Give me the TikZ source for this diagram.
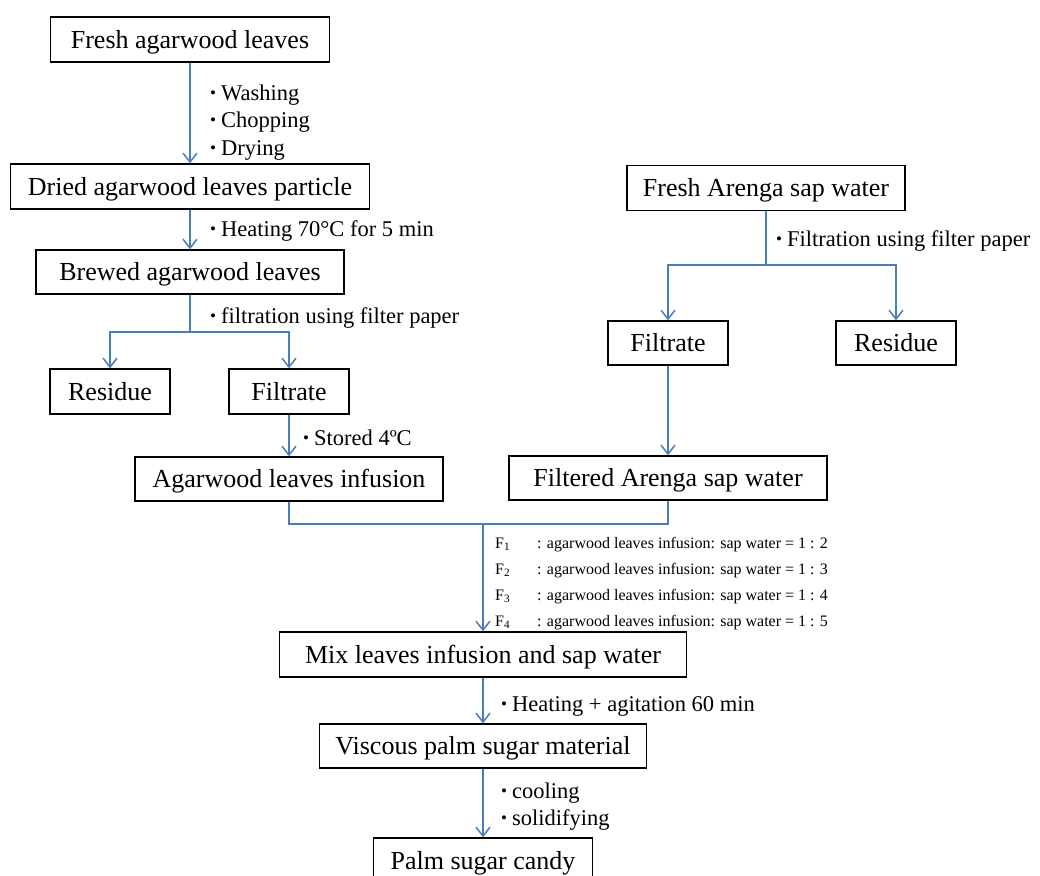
\documentclass[tikz,border=0pt]{standalone}
\usepackage{fontspec}
\usepackage{graphicx}
\setmainfont{Liberation Serif}
\usetikzlibrary{arrows.meta}
\definecolor{lineblue}{HTML}{4A7EBB}
\newcommand{\myblt}{\raisebox{1.2pt}{\fontsize{17}{20}\selectfont •}\hspace{5pt}}
\begin{document}
\begin{tikzpicture}[x=1pt,y=-1pt,
  box/.style={draw=black, line width=1.3pt, minimum height=45pt, inner sep=0pt, text height=17.5pt, text depth=0pt, font=\fontsize{26}{30}\selectfont},
  conn/.style={draw=lineblue, line width=1.5pt},
  arr/.style={conn, -{Straight Barb[length=9pt,width=14pt,line width=1.5pt]}},
  note/.style={anchor=base west, inner sep=0pt, font=\fontsize{22.5}{26}\selectfont},
  small/.style={anchor=base west, inner sep=0pt, font=\fontsize{16}{18}\selectfont}]
\useasboundingbox (0,0) rectangle (1040,875);
\fill[white] (0,0) rectangle (1040,875);
\clip (0,0) rectangle (1040,875);

% left column
\node[box, minimum width=279pt] (fresh) at (190,39.5) {Fresh agarwood leaves};
\node[box, minimum width=359pt] (dried) at (190,186.5) {Dried agarwood leaves particle};
\node[box, minimum width=308pt, minimum height=44pt] (brewed) at (190,272) {Brewed agarwood leaves};
\node[box, minimum width=120pt] (res1) at (110,391.5) {Residue};
\node[box, minimum width=120pt] (filt1) at (289,391.5) {Filtrate};
\node[box, minimum width=308pt, minimum height=44pt] (infus) at (289,479) {Agarwood leaves infusion};

% right column
\node[box, minimum width=278pt] (arenga) at (766,188) {Fresh Arenga sap water};
\node[box, minimum width=120pt, minimum height=44pt] (filt2) at (668,343) {Filtrate};
\node[box, minimum width=120pt, minimum height=44pt] (res2) at (896,343) {Residue};
\node[box, minimum width=318pt, minimum height=44pt] (filtered) at (668,478) {Filtered Arenga sap water};

% bottom column
\node[box, minimum width=407pt] (mix) at (483,654.5) {Mix leaves infusion and sap water};
\node[box, minimum width=327pt, minimum height=44pt] (visc) at (483,746) {Viscous palm sugar material};
\node[box, minimum width=219pt] (palm) at (483,860.5) {Palm sugar candy};

% junctions
\coordinate (j1) at (190,332);
\coordinate (j2) at (766,265);
\coordinate (j3) at (483,524);

% connectors
\draw[arr] (fresh.south) -- (dried.north);
\draw[arr] (dried.south) -- (brewed.north);
\draw[conn] (brewed.south) -- (j1);
\draw[arr] (j1) -| (res1.north);
\draw[arr] (j1) -| (filt1.north);
\draw[arr] (filt1.south) -- (infus.north);

\draw[conn] (arenga.south) -- (j2);
\draw[arr] (j2) -| (filt2.north);
\draw[arr] (j2) -| (res2.north);
\draw[arr] (filt2.south) -- (filtered.north);

\draw[conn] (infus.south) |- (j3);
\draw[conn] (filtered.south) |- (j3);
\draw[arr] (j3) -- (mix.north);
\draw[arr] (mix.south) -- (visc.north);
\draw[arr] (visc.south) -- (palm.north);

% process notes (baseline positions)
\node[note] (n1) at (210,100) {\myblt Washing};
\node[note] (n2) at (210,127) {\myblt Chopping};
\node[note] (n3) at (210,155) {\myblt Drying};
\node[note] (n4) at (210,236) {\myblt Heating 70°C for 5 min};
\node[note] (n5) at (210,323) {\myblt filtration using filter paper};
\node[note] (n6) at (303,445) {\myblt Stored 4ºC};
\node[note] (n7) at (776,246) {\myblt Filtration using filter paper};
\node[note] (n8) at (501,711) {\myblt Heating + agitation 60 min};
\node[note] (n9) at (501,798) {\myblt cooling};
\node[note] (n10) at (501,825) {\myblt solidifying};

% formulations
\node[small] (f1) at (495,548) {F\textsubscript{1}};
\node[small] (f2) at (495,574) {F\textsubscript{2}};
\node[small] (f3) at (495,600) {F\textsubscript{3}};
\node[small] (f4) at (495,626) {F\textsubscript{4}};
\node[small] (r1) at (537,548) {: agarwood leaves infusion: sap water = 1 : 2};
\node[small] (r2) at (537,574) {: agarwood leaves infusion: sap water = 1 : 3};
\node[small] (r3) at (537,600) {: agarwood leaves infusion: sap water = 1 : 4};
\node[small] (r4) at (537,626) {: agarwood leaves infusion: sap water = 1 : 5};
\end{tikzpicture}
\end{document}
